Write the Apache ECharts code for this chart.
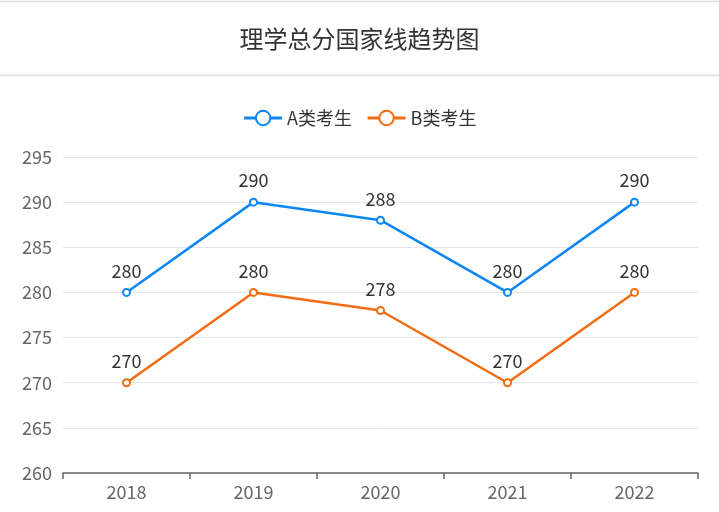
<!DOCTYPE html>
<html><head><meta charset="utf-8">
<script src="https://cdn.jsdelivr.net/npm/echarts@6/dist/echarts.min.js"></script>
<style>html,body{margin:0;padding:0;background:#fff}#c{width:719px;height:512px}</style>
</head><body><div id="c"></div>
<script>
const years = ['2018','2019','2020','2021','2022'];
const seriesA = [280, 290, 288, 280, 290];
const seriesB = [270, 280, 278, 270, 280];
const nameA = 'A类考生';
const nameB = 'B类考生';
const chart = echarts.init(document.getElementById('c'));
const font = '"Microsoft YaHei","Noto Sans CJK SC",sans-serif';
chart.setOption({
  animation: false,
  textStyle: {fontFamily: font},
  title: {text: '理学总分国家线趋势图', left: 'center', top: 22,
    textStyle: {fontSize: 24, fontWeight: 'normal', color: '#333', fontFamily: font}},
  graphic: [
    {type: 'line', shape: {x1: 0, y1: 1.5, x2: 719, y2: 1.5}, style: {stroke: '#ddd', lineWidth: 1.5}},
    {type: 'line', shape: {x1: 0, y1: 75.5, x2: 719, y2: 75.5}, style: {stroke: '#ddd', lineWidth: 1.5}}
  ],
  legend: {top: 104, left: 'center', itemWidth: 38, itemHeight: 18, itemGap: 14,
    itemStyle: {borderWidth: 2.5},
    lineStyle: {width: 3},
    textStyle: {fontSize: 18, color: '#333', fontFamily: font},
    data: [nameA, nameB]},
  grid: {left: 63, right: 21, top: 157, bottom: 39},
  xAxis: {type: 'category', data: years,
    axisLine: {lineStyle: {color: '#666', width: 1.5}},
    axisTick: {show: true, length: 6, lineStyle: {color: '#666', width: 1.5}},
    axisLabel: {fontSize: 18, color: '#666', margin: 10}},
  yAxis: {type: 'value', min: 260, max: 295, interval: 5,
    axisLine: {show: false}, axisTick: {show: false},
    axisLabel: {fontSize: 18, color: '#666', margin: 11},
    splitLine: {lineStyle: {color: '#e3e6f0'}}},
  series: [
    {name: nameA, type: 'line', data: seriesA, symbol: 'emptyCircle', symbolSize: 7,
      itemStyle: {color: '#0b86f2', borderColor: '#0b86f2', borderWidth: 2},
      lineStyle: {width: 2.5, color: '#0b86f2'},
      label: {show: true, position: 'top', fontSize: 18, color: '#333', distance: 8}},
    {name: nameB, type: 'line', data: seriesB, symbol: 'emptyCircle', symbolSize: 7,
      itemStyle: {color: '#f36c12', borderColor: '#f36c12', borderWidth: 2},
      lineStyle: {width: 2.5, color: '#f36c12'},
      label: {show: true, position: 'top', fontSize: 18, color: '#333', distance: 8}}
  ]
});
</script></body></html>
